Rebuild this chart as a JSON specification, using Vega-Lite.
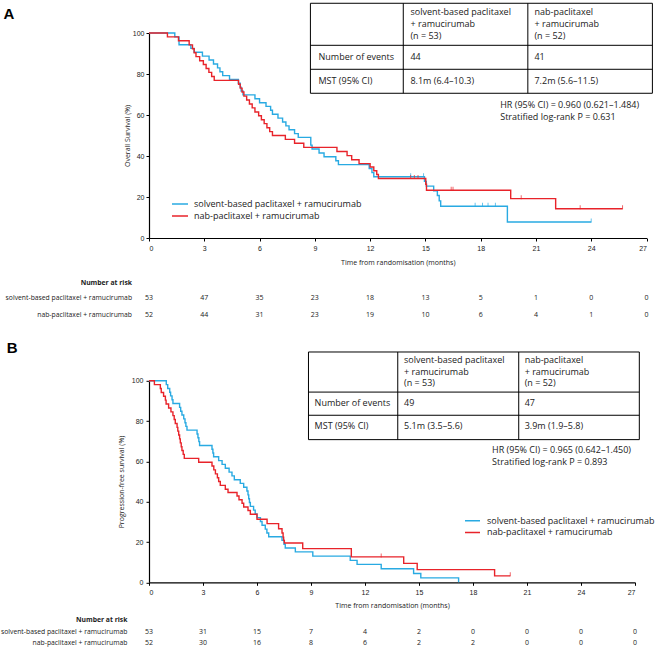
{
  "$schema": "https://vega.github.io/schema/vega-lite/v6.json",
  "padding": {"left": 0, "top": 2, "right": 0, "bottom": 0},
  "background": "white",
  "bounds": "flush",
  "spacing": 142.8,
  "config": {
    "view": {"stroke": null},
    "font": "Open Sans",
    "axis": {"labelFont": "Liberation Sans", "labelFontSize": 7, "labelColor": "#222", "titleFont": "Open Sans", "titleFontSize": 7, "titleFontWeight": "normal", "titleColor": "#222", "domainColor": "#000", "tickColor": "#000", "domainWidth": 1.2, "grid": false, "tickSize": 3},
    "text": {"font": "Open Sans", "color": "#222"}
  },
  "resolve": {"scale": {"color": "independent", "x": "independent", "y": "independent"}, "legend": {"color": "independent"}},
  "datasets": {
    "kmA": [
      {"arm": "solvent-based paclitaxel + ramucirumab", "t": 0, "s": 100},
      {"arm": "solvent-based paclitaxel + ramucirumab", "t": 1.4, "s": 98.1},
      {"arm": "solvent-based paclitaxel + ramucirumab", "t": 1.63, "s": 94.3},
      {"arm": "solvent-based paclitaxel + ramucirumab", "t": 2.27, "s": 92.5},
      {"arm": "solvent-based paclitaxel + ramucirumab", "t": 2.45, "s": 90.6},
      {"arm": "solvent-based paclitaxel + ramucirumab", "t": 2.9, "s": 88.7},
      {"arm": "solvent-based paclitaxel + ramucirumab", "t": 3.26, "s": 86.8},
      {"arm": "solvent-based paclitaxel + ramucirumab", "t": 3.5, "s": 84.9},
      {"arm": "solvent-based paclitaxel + ramucirumab", "t": 3.72, "s": 83.0},
      {"arm": "solvent-based paclitaxel + ramucirumab", "t": 3.85, "s": 81.1},
      {"arm": "solvent-based paclitaxel + ramucirumab", "t": 4.0, "s": 79.2},
      {"arm": "solvent-based paclitaxel + ramucirumab", "t": 4.37, "s": 77.4},
      {"arm": "solvent-based paclitaxel + ramucirumab", "t": 4.85, "s": 75.5},
      {"arm": "solvent-based paclitaxel + ramucirumab", "t": 4.95, "s": 73.6},
      {"arm": "solvent-based paclitaxel + ramucirumab", "t": 5.0, "s": 71.7},
      {"arm": "solvent-based paclitaxel + ramucirumab", "t": 5.1, "s": 69.8},
      {"arm": "solvent-based paclitaxel + ramucirumab", "t": 5.75, "s": 67.9},
      {"arm": "solvent-based paclitaxel + ramucirumab", "t": 6.0, "s": 66.0},
      {"arm": "solvent-based paclitaxel + ramucirumab", "t": 6.35, "s": 64.2},
      {"arm": "solvent-based paclitaxel + ramucirumab", "t": 6.6, "s": 62.3},
      {"arm": "solvent-based paclitaxel + ramucirumab", "t": 6.7, "s": 60.4},
      {"arm": "solvent-based paclitaxel + ramucirumab", "t": 7.0, "s": 58.5},
      {"arm": "solvent-based paclitaxel + ramucirumab", "t": 7.25, "s": 56.6},
      {"arm": "solvent-based paclitaxel + ramucirumab", "t": 7.43, "s": 54.7},
      {"arm": "solvent-based paclitaxel + ramucirumab", "t": 7.6, "s": 52.8},
      {"arm": "solvent-based paclitaxel + ramucirumab", "t": 7.9, "s": 50.9},
      {"arm": "solvent-based paclitaxel + ramucirumab", "t": 8.1, "s": 49.1},
      {"arm": "solvent-based paclitaxel + ramucirumab", "t": 8.78, "s": 45.3},
      {"arm": "solvent-based paclitaxel + ramucirumab", "t": 8.85, "s": 43.4},
      {"arm": "solvent-based paclitaxel + ramucirumab", "t": 9.23, "s": 41.5},
      {"arm": "solvent-based paclitaxel + ramucirumab", "t": 9.5, "s": 39.6},
      {"arm": "solvent-based paclitaxel + ramucirumab", "t": 10.14, "s": 37.7},
      {"arm": "solvent-based paclitaxel + ramucirumab", "t": 10.28, "s": 35.8},
      {"arm": "solvent-based paclitaxel + ramucirumab", "t": 11.95, "s": 33.9},
      {"arm": "solvent-based paclitaxel + ramucirumab", "t": 12.1, "s": 31.9},
      {"arm": "solvent-based paclitaxel + ramucirumab", "t": 12.2, "s": 29.9},
      {"arm": "solvent-based paclitaxel + ramucirumab", "t": 14.95, "s": 27.6},
      {"arm": "solvent-based paclitaxel + ramucirumab", "t": 15.05, "s": 25.3},
      {"arm": "solvent-based paclitaxel + ramucirumab", "t": 15.45, "s": 23.0},
      {"arm": "solvent-based paclitaxel + ramucirumab", "t": 15.65, "s": 20.7},
      {"arm": "solvent-based paclitaxel + ramucirumab", "t": 15.75, "s": 18.1},
      {"arm": "solvent-based paclitaxel + ramucirumab", "t": 15.83, "s": 15.5},
      {"arm": "solvent-based paclitaxel + ramucirumab", "t": 19.45, "s": 7.8},
      {"arm": "solvent-based paclitaxel + ramucirumab", "t": 24.0, "s": 7.8},
      {"arm": "nab-paclitaxel + ramucirumab", "t": 0, "s": 100},
      {"arm": "nab-paclitaxel + ramucirumab", "t": 1.0, "s": 98.1},
      {"arm": "nab-paclitaxel + ramucirumab", "t": 1.6, "s": 96.2},
      {"arm": "nab-paclitaxel + ramucirumab", "t": 2.18, "s": 94.2},
      {"arm": "nab-paclitaxel + ramucirumab", "t": 2.36, "s": 92.3},
      {"arm": "nab-paclitaxel + ramucirumab", "t": 2.45, "s": 90.4},
      {"arm": "nab-paclitaxel + ramucirumab", "t": 2.55, "s": 88.5},
      {"arm": "nab-paclitaxel + ramucirumab", "t": 2.75, "s": 86.5},
      {"arm": "nab-paclitaxel + ramucirumab", "t": 2.95, "s": 84.6},
      {"arm": "nab-paclitaxel + ramucirumab", "t": 3.1, "s": 82.7},
      {"arm": "nab-paclitaxel + ramucirumab", "t": 3.25, "s": 80.8},
      {"arm": "nab-paclitaxel + ramucirumab", "t": 3.4, "s": 78.8},
      {"arm": "nab-paclitaxel + ramucirumab", "t": 3.54, "s": 76.9},
      {"arm": "nab-paclitaxel + ramucirumab", "t": 4.86, "s": 75.0},
      {"arm": "nab-paclitaxel + ramucirumab", "t": 4.95, "s": 73.1},
      {"arm": "nab-paclitaxel + ramucirumab", "t": 5.05, "s": 71.2},
      {"arm": "nab-paclitaxel + ramucirumab", "t": 5.15, "s": 69.2},
      {"arm": "nab-paclitaxel + ramucirumab", "t": 5.3, "s": 67.3},
      {"arm": "nab-paclitaxel + ramucirumab", "t": 5.45, "s": 65.4},
      {"arm": "nab-paclitaxel + ramucirumab", "t": 5.6, "s": 63.5},
      {"arm": "nab-paclitaxel + ramucirumab", "t": 5.75, "s": 61.5},
      {"arm": "nab-paclitaxel + ramucirumab", "t": 5.95, "s": 59.6},
      {"arm": "nab-paclitaxel + ramucirumab", "t": 6.1, "s": 57.7},
      {"arm": "nab-paclitaxel + ramucirumab", "t": 6.25, "s": 55.8},
      {"arm": "nab-paclitaxel + ramucirumab", "t": 6.4, "s": 53.8},
      {"arm": "nab-paclitaxel + ramucirumab", "t": 6.55, "s": 51.9},
      {"arm": "nab-paclitaxel + ramucirumab", "t": 6.7, "s": 50.0},
      {"arm": "nab-paclitaxel + ramucirumab", "t": 7.4, "s": 48.1},
      {"arm": "nab-paclitaxel + ramucirumab", "t": 7.9, "s": 46.2},
      {"arm": "nab-paclitaxel + ramucirumab", "t": 8.4, "s": 44.2},
      {"arm": "nab-paclitaxel + ramucirumab", "t": 10.2, "s": 42.2},
      {"arm": "nab-paclitaxel + ramucirumab", "t": 10.75, "s": 40.2},
      {"arm": "nab-paclitaxel + ramucirumab", "t": 11.0, "s": 38.2},
      {"arm": "nab-paclitaxel + ramucirumab", "t": 11.4, "s": 36.3},
      {"arm": "nab-paclitaxel + ramucirumab", "t": 12.0, "s": 34.6},
      {"arm": "nab-paclitaxel + ramucirumab", "t": 12.2, "s": 32.8},
      {"arm": "nab-paclitaxel + ramucirumab", "t": 12.36, "s": 31.0},
      {"arm": "nab-paclitaxel + ramucirumab", "t": 12.45, "s": 29.0},
      {"arm": "nab-paclitaxel + ramucirumab", "t": 15.02, "s": 26.2},
      {"arm": "nab-paclitaxel + ramucirumab", "t": 15.06, "s": 23.3},
      {"arm": "nab-paclitaxel + ramucirumab", "t": 19.63, "s": 19.2},
      {"arm": "nab-paclitaxel + ramucirumab", "t": 22.07, "s": 14.3},
      {"arm": "nab-paclitaxel + ramucirumab", "t": 25.7, "s": 14.3}
    ],
    "censA": [
      {"arm": "solvent-based paclitaxel + ramucirumab", "t": 14.2, "s": 29.9},
      {"arm": "solvent-based paclitaxel + ramucirumab", "t": 14.9, "s": 29.9},
      {"arm": "solvent-based paclitaxel + ramucirumab", "t": 17.7, "s": 15.5},
      {"arm": "solvent-based paclitaxel + ramucirumab", "t": 18.1, "s": 15.5},
      {"arm": "solvent-based paclitaxel + ramucirumab", "t": 18.4, "s": 15.5},
      {"arm": "solvent-based paclitaxel + ramucirumab", "t": 18.8, "s": 15.5},
      {"arm": "solvent-based paclitaxel + ramucirumab", "t": 24.0, "s": 7.8},
      {"arm": "nab-paclitaxel + ramucirumab", "t": 14.2, "s": 29.0},
      {"arm": "nab-paclitaxel + ramucirumab", "t": 14.4, "s": 29.0},
      {"arm": "nab-paclitaxel + ramucirumab", "t": 14.6, "s": 29.0},
      {"arm": "nab-paclitaxel + ramucirumab", "t": 16.4, "s": 23.3},
      {"arm": "nab-paclitaxel + ramucirumab", "t": 16.5, "s": 23.3},
      {"arm": "nab-paclitaxel + ramucirumab", "t": 20.2, "s": 19.2},
      {"arm": "nab-paclitaxel + ramucirumab", "t": 23.4, "s": 14.3},
      {"arm": "nab-paclitaxel + ramucirumab", "t": 25.7, "s": 14.3}
    ],
    "kmB": [
      {"arm": "solvent-based paclitaxel + ramucirumab", "t": 0, "s": 100},
      {"arm": "solvent-based paclitaxel + ramucirumab", "t": 0.96, "s": 98.1},
      {"arm": "solvent-based paclitaxel + ramucirumab", "t": 1.04, "s": 96.2},
      {"arm": "solvent-based paclitaxel + ramucirumab", "t": 1.15, "s": 94.3},
      {"arm": "solvent-based paclitaxel + ramucirumab", "t": 1.2, "s": 92.5},
      {"arm": "solvent-based paclitaxel + ramucirumab", "t": 1.28, "s": 90.6},
      {"arm": "solvent-based paclitaxel + ramucirumab", "t": 1.33, "s": 88.7},
      {"arm": "solvent-based paclitaxel + ramucirumab", "t": 1.7, "s": 86.8},
      {"arm": "solvent-based paclitaxel + ramucirumab", "t": 1.76, "s": 84.9},
      {"arm": "solvent-based paclitaxel + ramucirumab", "t": 1.83, "s": 83.0},
      {"arm": "solvent-based paclitaxel + ramucirumab", "t": 1.93, "s": 81.1},
      {"arm": "solvent-based paclitaxel + ramucirumab", "t": 2.0, "s": 79.2},
      {"arm": "solvent-based paclitaxel + ramucirumab", "t": 2.05, "s": 77.4},
      {"arm": "solvent-based paclitaxel + ramucirumab", "t": 2.11, "s": 75.5},
      {"arm": "solvent-based paclitaxel + ramucirumab", "t": 2.67, "s": 73.6},
      {"arm": "solvent-based paclitaxel + ramucirumab", "t": 2.72, "s": 71.7},
      {"arm": "solvent-based paclitaxel + ramucirumab", "t": 2.77, "s": 69.8},
      {"arm": "solvent-based paclitaxel + ramucirumab", "t": 2.81, "s": 67.9},
      {"arm": "solvent-based paclitaxel + ramucirumab", "t": 3.5, "s": 66.0},
      {"arm": "solvent-based paclitaxel + ramucirumab", "t": 3.55, "s": 64.2},
      {"arm": "solvent-based paclitaxel + ramucirumab", "t": 3.59, "s": 62.3},
      {"arm": "solvent-based paclitaxel + ramucirumab", "t": 3.87, "s": 60.4},
      {"arm": "solvent-based paclitaxel + ramucirumab", "t": 4.06, "s": 58.5},
      {"arm": "solvent-based paclitaxel + ramucirumab", "t": 4.24, "s": 56.6},
      {"arm": "solvent-based paclitaxel + ramucirumab", "t": 4.45, "s": 54.7},
      {"arm": "solvent-based paclitaxel + ramucirumab", "t": 4.61, "s": 52.8},
      {"arm": "solvent-based paclitaxel + ramucirumab", "t": 4.74, "s": 50.9},
      {"arm": "solvent-based paclitaxel + ramucirumab", "t": 5.07, "s": 49.1},
      {"arm": "solvent-based paclitaxel + ramucirumab", "t": 5.26, "s": 47.2},
      {"arm": "solvent-based paclitaxel + ramucirumab", "t": 5.44, "s": 45.3},
      {"arm": "solvent-based paclitaxel + ramucirumab", "t": 5.5, "s": 43.4},
      {"arm": "solvent-based paclitaxel + ramucirumab", "t": 5.54, "s": 41.5},
      {"arm": "solvent-based paclitaxel + ramucirumab", "t": 5.58, "s": 39.6},
      {"arm": "solvent-based paclitaxel + ramucirumab", "t": 5.63, "s": 37.7},
      {"arm": "solvent-based paclitaxel + ramucirumab", "t": 5.81, "s": 35.8},
      {"arm": "solvent-based paclitaxel + ramucirumab", "t": 5.9, "s": 33.9},
      {"arm": "solvent-based paclitaxel + ramucirumab", "t": 6.0, "s": 32.1},
      {"arm": "solvent-based paclitaxel + ramucirumab", "t": 6.19, "s": 30.2},
      {"arm": "solvent-based paclitaxel + ramucirumab", "t": 6.28, "s": 28.3},
      {"arm": "solvent-based paclitaxel + ramucirumab", "t": 6.46, "s": 26.4},
      {"arm": "solvent-based paclitaxel + ramucirumab", "t": 6.55, "s": 24.5},
      {"arm": "solvent-based paclitaxel + ramucirumab", "t": 6.65, "s": 22.6},
      {"arm": "solvent-based paclitaxel + ramucirumab", "t": 7.39, "s": 20.8},
      {"arm": "solvent-based paclitaxel + ramucirumab", "t": 7.5, "s": 18.9},
      {"arm": "solvent-based paclitaxel + ramucirumab", "t": 7.57, "s": 17.0},
      {"arm": "solvent-based paclitaxel + ramucirumab", "t": 8.13, "s": 15.1},
      {"arm": "solvent-based paclitaxel + ramucirumab", "t": 9.1, "s": 13.0},
      {"arm": "solvent-based paclitaxel + ramucirumab", "t": 11.18, "s": 10.9},
      {"arm": "solvent-based paclitaxel + ramucirumab", "t": 11.56, "s": 8.9},
      {"arm": "solvent-based paclitaxel + ramucirumab", "t": 12.9, "s": 6.7},
      {"arm": "solvent-based paclitaxel + ramucirumab", "t": 14.7, "s": 4.4},
      {"arm": "solvent-based paclitaxel + ramucirumab", "t": 15.1, "s": 2.2},
      {"arm": "solvent-based paclitaxel + ramucirumab", "t": 17.2, "s": 0},
      {"arm": "nab-paclitaxel + ramucirumab", "t": 0, "s": 100},
      {"arm": "nab-paclitaxel + ramucirumab", "t": 0.3, "s": 98.1},
      {"arm": "nab-paclitaxel + ramucirumab", "t": 0.63, "s": 96.2},
      {"arm": "nab-paclitaxel + ramucirumab", "t": 0.68, "s": 94.2},
      {"arm": "nab-paclitaxel + ramucirumab", "t": 0.81, "s": 92.3},
      {"arm": "nab-paclitaxel + ramucirumab", "t": 0.91, "s": 90.4},
      {"arm": "nab-paclitaxel + ramucirumab", "t": 0.95, "s": 88.5},
      {"arm": "nab-paclitaxel + ramucirumab", "t": 1.09, "s": 86.5},
      {"arm": "nab-paclitaxel + ramucirumab", "t": 1.22, "s": 84.6},
      {"arm": "nab-paclitaxel + ramucirumab", "t": 1.33, "s": 82.7},
      {"arm": "nab-paclitaxel + ramucirumab", "t": 1.4, "s": 80.8},
      {"arm": "nab-paclitaxel + ramucirumab", "t": 1.46, "s": 78.8},
      {"arm": "nab-paclitaxel + ramucirumab", "t": 1.56, "s": 76.9},
      {"arm": "nab-paclitaxel + ramucirumab", "t": 1.6, "s": 75.0},
      {"arm": "nab-paclitaxel + ramucirumab", "t": 1.65, "s": 73.1},
      {"arm": "nab-paclitaxel + ramucirumab", "t": 1.7, "s": 71.2},
      {"arm": "nab-paclitaxel + ramucirumab", "t": 1.74, "s": 69.2},
      {"arm": "nab-paclitaxel + ramucirumab", "t": 1.79, "s": 67.3},
      {"arm": "nab-paclitaxel + ramucirumab", "t": 1.83, "s": 65.4},
      {"arm": "nab-paclitaxel + ramucirumab", "t": 1.9, "s": 63.5},
      {"arm": "nab-paclitaxel + ramucirumab", "t": 1.96, "s": 61.5},
      {"arm": "nab-paclitaxel + ramucirumab", "t": 2.76, "s": 59.6},
      {"arm": "nab-paclitaxel + ramucirumab", "t": 3.5, "s": 57.7},
      {"arm": "nab-paclitaxel + ramucirumab", "t": 3.6, "s": 55.8},
      {"arm": "nab-paclitaxel + ramucirumab", "t": 3.69, "s": 53.8},
      {"arm": "nab-paclitaxel + ramucirumab", "t": 3.8, "s": 51.9},
      {"arm": "nab-paclitaxel + ramucirumab", "t": 3.87, "s": 50.0},
      {"arm": "nab-paclitaxel + ramucirumab", "t": 3.96, "s": 48.1},
      {"arm": "nab-paclitaxel + ramucirumab", "t": 4.24, "s": 46.2},
      {"arm": "nab-paclitaxel + ramucirumab", "t": 4.39, "s": 44.6},
      {"arm": "nab-paclitaxel + ramucirumab", "t": 4.89, "s": 42.8},
      {"arm": "nab-paclitaxel + ramucirumab", "t": 5.0, "s": 41.0},
      {"arm": "nab-paclitaxel + ramucirumab", "t": 5.17, "s": 39.2},
      {"arm": "nab-paclitaxel + ramucirumab", "t": 5.26, "s": 37.4},
      {"arm": "nab-paclitaxel + ramucirumab", "t": 5.5, "s": 35.6},
      {"arm": "nab-paclitaxel + ramucirumab", "t": 5.63, "s": 33.8},
      {"arm": "nab-paclitaxel + ramucirumab", "t": 6.0, "s": 31.3},
      {"arm": "nab-paclitaxel + ramucirumab", "t": 6.56, "s": 29.1},
      {"arm": "nab-paclitaxel + ramucirumab", "t": 7.2, "s": 26.6},
      {"arm": "nab-paclitaxel + ramucirumab", "t": 7.39, "s": 24.5},
      {"arm": "nab-paclitaxel + ramucirumab", "t": 7.45, "s": 22.4},
      {"arm": "nab-paclitaxel + ramucirumab", "t": 7.48, "s": 20.8},
      {"arm": "nab-paclitaxel + ramucirumab", "t": 7.52, "s": 19.5},
      {"arm": "nab-paclitaxel + ramucirumab", "t": 8.54, "s": 16.7},
      {"arm": "nab-paclitaxel + ramucirumab", "t": 11.24, "s": 12.6},
      {"arm": "nab-paclitaxel + ramucirumab", "t": 14.15, "s": 9.4},
      {"arm": "nab-paclitaxel + ramucirumab", "t": 14.9, "s": 6.3},
      {"arm": "nab-paclitaxel + ramucirumab", "t": 19.2, "s": 3.2},
      {"arm": "nab-paclitaxel + ramucirumab", "t": 20.07, "s": 3.2}
    ],
    "censB": [
      {"arm": "nab-paclitaxel + ramucirumab", "t": 12.9, "s": 12.6},
      {"arm": "nab-paclitaxel + ramucirumab", "t": 20.07, "s": 3.2}
    ],
    "riskA": [
      {"arm": "solvent", "t": 0, "n": 53}, {"arm": "solvent", "t": 3, "n": 47}, {"arm": "solvent", "t": 6, "n": 35}, {"arm": "solvent", "t": 9, "n": 23}, {"arm": "solvent", "t": 12, "n": 18},
      {"arm": "solvent", "t": 15, "n": 13}, {"arm": "solvent", "t": 18, "n": 5}, {"arm": "solvent", "t": 21, "n": 1}, {"arm": "solvent", "t": 24, "n": 0}, {"arm": "solvent", "t": 27, "n": 0},
      {"arm": "nab", "t": 0, "n": 52}, {"arm": "nab", "t": 3, "n": 44}, {"arm": "nab", "t": 6, "n": 31}, {"arm": "nab", "t": 9, "n": 23}, {"arm": "nab", "t": 12, "n": 19},
      {"arm": "nab", "t": 15, "n": 10}, {"arm": "nab", "t": 18, "n": 6}, {"arm": "nab", "t": 21, "n": 4}, {"arm": "nab", "t": 24, "n": 1}, {"arm": "nab", "t": 27, "n": 0}
    ],
    "riskB": [
      {"arm": "solvent", "t": 0, "n": 53}, {"arm": "solvent", "t": 3, "n": 31}, {"arm": "solvent", "t": 6, "n": 15}, {"arm": "solvent", "t": 9, "n": 7}, {"arm": "solvent", "t": 12, "n": 4},
      {"arm": "solvent", "t": 15, "n": 2}, {"arm": "solvent", "t": 18, "n": 0}, {"arm": "solvent", "t": 21, "n": 0}, {"arm": "solvent", "t": 24, "n": 0}, {"arm": "solvent", "t": 27, "n": 0},
      {"arm": "nab", "t": 0, "n": 52}, {"arm": "nab", "t": 3, "n": 30}, {"arm": "nab", "t": 6, "n": 16}, {"arm": "nab", "t": 9, "n": 8}, {"arm": "nab", "t": 12, "n": 6},
      {"arm": "nab", "t": 15, "n": 2}, {"arm": "nab", "t": 18, "n": 2}, {"arm": "nab", "t": 21, "n": 0}, {"arm": "nab", "t": 24, "n": 0}, {"arm": "nab", "t": 27, "n": 0}
    ],
    "gridA": [
      {"x": 8.76, "x2": 27.32, "y": 114.5, "y2": 114.5},
      {"x": 8.76, "x2": 27.32, "y": 94.0, "y2": 94.0},
      {"x": 8.76, "x2": 27.32, "y": 82.3, "y2": 82.3},
      {"x": 8.76, "x2": 27.32, "y": 70.6, "y2": 70.6},
      {"x": 8.76, "x2": 8.76, "y": 70.6, "y2": 114.5},
      {"x": 13.8, "x2": 13.8, "y": 70.6, "y2": 114.5},
      {"x": 20.56, "x2": 20.56, "y": 70.6, "y2": 114.5},
      {"x": 27.32, "x2": 27.32, "y": 70.6, "y2": 114.5}
    ],
    "cellsA": [
      {"x": 14.19, "y": 110.1, "label": "solvent-based paclitaxel"},
      {"x": 14.19, "y": 104.2, "label": "+ ramucirumab"},
      {"x": 14.19, "y": 98.4, "label": "(n = 53)"},
      {"x": 20.92, "y": 110.1, "label": "nab-paclitaxel"},
      {"x": 20.92, "y": 104.2, "label": "+ ramucirumab"},
      {"x": 20.92, "y": 98.4, "label": "(n = 52)"},
      {"x": 9.2, "y": 88.1, "label": "Number of events"},
      {"x": 14.19, "y": 88.1, "label": "44"},
      {"x": 20.92, "y": 88.1, "label": "41"},
      {"x": 9.2, "y": 76.4, "label": "MST (95% CI)"},
      {"x": 14.19, "y": 76.4, "label": "8.1m (6.4–10.3)"},
      {"x": 20.92, "y": 76.4, "label": "7.2m (5.6–11.5)"},
      {"x": 19.06, "y": 64.7, "label": "HR (95% CI) = 0.960 (0.621–1.484)"},
      {"x": 19.06, "y": 58.9, "label": "Stratified log-rank P = 0.631"}
    ],
    "gridB": [
      {"x": 8.86, "x2": 27.24, "y": 114.3, "y2": 114.3},
      {"x": 8.86, "x2": 27.24, "y": 94.4, "y2": 94.4},
      {"x": 8.86, "x2": 27.24, "y": 82.9, "y2": 82.9},
      {"x": 8.86, "x2": 27.24, "y": 70.8, "y2": 70.8},
      {"x": 8.86, "x2": 8.86, "y": 70.8, "y2": 114.3},
      {"x": 13.82, "x2": 13.82, "y": 70.8, "y2": 114.3},
      {"x": 20.54, "x2": 20.54, "y": 70.8, "y2": 114.3},
      {"x": 27.24, "x2": 27.24, "y": 70.8, "y2": 114.3}
    ],
    "cellsB": [
      {"x": 14.17, "y": 110.2, "label": "solvent-based paclitaxel"},
      {"x": 14.17, "y": 104.5, "label": "+ ramucirumab"},
      {"x": 14.17, "y": 98.8, "label": "(n = 53)"},
      {"x": 20.87, "y": 110.2, "label": "nab-paclitaxel"},
      {"x": 20.87, "y": 104.5, "label": "+ ramucirumab"},
      {"x": 20.87, "y": 98.8, "label": "(n = 52)"},
      {"x": 9.2, "y": 88.8, "label": "Number of events"},
      {"x": 14.17, "y": 88.8, "label": "49"},
      {"x": 20.87, "y": 88.8, "label": "47"},
      {"x": 9.2, "y": 77.4, "label": "MST (95% CI)"},
      {"x": 14.17, "y": 77.4, "label": "5.1m (3.5–5.6)"},
      {"x": 20.87, "y": 77.4, "label": "3.9m (1.9–5.8)"},
      {"x": 19.06, "y": 65.5, "label": "HR (95% CI) = 0.965 (0.642–1.450)"},
      {"x": 19.06, "y": 59.7, "label": "Stratified log-rank P = 0.893"}
    ]
  },
  "vconcat": [
    {
      "width": 497.5,
      "height": 205,
      "layer": [
        {
          "data": {"name": "kmA"},
          "mark": {"type": "line", "interpolate": "step-after", "strokeWidth": 1.4},
          "encoding": {
            "x": {"field": "t", "type": "quantitative", "scale": {"domain": [0, 27], "nice": false, "zero": false},
                  "axis": {"values": [0, 3, 6, 9, 12, 15, 18, 21, 24, 27], "title": "Time from randomisation (months)", "labelPadding": 3, "titlePadding": 7}},
            "y": {"field": "s", "type": "quantitative", "scale": {"domain": [0, 100], "nice": false},
                  "axis": {"values": [0, 10, 20, 30, 40, 50, 60, 70, 80, 90, 100], "title": "Overall Survival (%)", "labelPadding": 2, "titlePadding": 2}},
            "color": {"field": "arm", "type": "nominal",
                      "scale": {"domain": ["solvent-based paclitaxel + ramucirumab", "nab-paclitaxel + ramucirumab"], "range": ["#29aae2", "#e8232a"]},
                      "legend": {"orient": "none", "legendX": 22, "legendY": 166, "title": null, "symbolType": "stroke", "symbolSize": 256, "symbolStrokeWidth": 1.5, "clipHeight": 10, "labelFont": "Open Sans", "labelFontSize": 9, "labelColor": "#222", "labelLimit": 400, "rowPadding": 2, "labelOffset": 5}},
            "order": {"field": "t", "type": "quantitative"}
          }
        },
        {
          "data": {"name": "censA"},
          "mark": {"type": "tick", "orient": "vertical", "size": 4, "thickness": 1, "yOffset": -1.5},
          "encoding": {
            "x": {"field": "t", "type": "quantitative"},
            "y": {"field": "s", "type": "quantitative"},
            "color": {"field": "arm", "type": "nominal", "legend": null}
          }
        },
        {
          "data": {"name": "gridA"},
          "mark": {"type": "rule", "color": "#000", "strokeWidth": 1},
          "encoding": {"x": {"field": "x", "type": "quantitative"}, "x2": {"field": "x2"}, "y": {"field": "y", "type": "quantitative"}, "y2": {"field": "y2"}}
        },
        {
          "data": {"name": "cellsA"},
          "mark": {"type": "text", "align": "left", "baseline": "middle", "fontSize": 9},
          "encoding": {"x": {"field": "x", "type": "quantitative"}, "y": {"field": "y", "type": "quantitative"}, "text": {"field": "label"}}
        },
        {
          "data": {"name": "riskA"},
          "transform": [{"filter": "datum.arm === 'solvent'"}],
          "mark": {"type": "text", "align": "center", "baseline": "middle", "fontSize": 7},
          "encoding": {"x": {"field": "t", "type": "quantitative"}, "y": {"datum": -29.4}, "text": {"field": "n"}}
        },
        {
          "data": {"name": "riskA"},
          "transform": [{"filter": "datum.arm === 'nab'"}],
          "mark": {"type": "text", "align": "center", "baseline": "middle", "fontSize": 7},
          "encoding": {"x": {"field": "t", "type": "quantitative"}, "y": {"datum": -37.7}, "text": {"field": "n"}}
        },
        {
          "data": {"values": [{"label": "Number at risk"}]},
          "mark": {"type": "text", "align": "right", "baseline": "middle", "fontSize": 6.8, "fontWeight": "bold"},
          "encoding": {"x": {"datum": -0.92}, "y": {"datum": -21.8}, "text": {"field": "label"}}
        },
        {
          "data": {"values": [{"label": "solvent-based paclitaxel + ramucirumab"}]},
          "mark": {"type": "text", "align": "right", "baseline": "middle", "fontSize": 6.8},
          "encoding": {"x": {"datum": -0.92}, "y": {"datum": -29.4}, "text": {"field": "label"}}
        },
        {
          "data": {"values": [{"label": "nab-paclitaxel + ramucirumab"}]},
          "mark": {"type": "text", "align": "right", "baseline": "middle", "fontSize": 6.8},
          "encoding": {"x": {"datum": -0.92}, "y": {"datum": -37.7}, "text": {"field": "label"}}
        },
        {
          "data": {"values": [{"label": "A"}]},
          "mark": {"type": "text", "align": "left", "baseline": "middle", "fontSize": 15, "fontWeight": "bold", "font": "Liberation Sans", "color": "#000"},
          "encoding": {"x": {"datum": -7.9}, "y": {"datum": 109.5}, "text": {"field": "label"}}
        }
      ]
    },
    {
      "width": 486,
      "height": 201.5,
      "layer": [
        {
          "data": {"name": "kmB"},
          "mark": {"type": "line", "interpolate": "step-after", "strokeWidth": 1.4},
          "encoding": {
            "x": {"field": "t", "type": "quantitative", "scale": {"domain": [0, 27], "nice": false, "zero": false},
                  "axis": {"values": [0, 3, 6, 9, 12, 15, 18, 21, 24, 27], "title": "Time from randomisation (months)", "labelPadding": 3, "titlePadding": 6}},
            "y": {"field": "s", "type": "quantitative", "scale": {"domain": [0, 100], "nice": false},
                  "axis": {"values": [0, 10, 20, 30, 40, 50, 60, 70, 80, 90, 100], "title": "Progression-free survival (%)", "labelPadding": 3, "titlePadding": 7}},
            "color": {"field": "arm", "type": "nominal",
                      "scale": {"domain": ["solvent-based paclitaxel + ramucirumab", "nab-paclitaxel + ramucirumab"], "range": ["#29aae2", "#e8232a"]},
                      "legend": {"orient": "none", "legendX": 315, "legendY": 135, "title": null, "symbolType": "stroke", "symbolSize": 225, "symbolStrokeWidth": 1.5, "clipHeight": 10, "labelFont": "Open Sans", "labelFontSize": 9, "labelColor": "#222", "labelLimit": 400, "rowPadding": 1.6, "labelOffset": 6}},
            "order": {"field": "t", "type": "quantitative"}
          }
        },
        {
          "data": {"name": "censB"},
          "mark": {"type": "tick", "orient": "vertical", "size": 4, "thickness": 1, "yOffset": -1.5},
          "encoding": {
            "x": {"field": "t", "type": "quantitative"},
            "y": {"field": "s", "type": "quantitative"},
            "color": {"field": "arm", "type": "nominal", "legend": null}
          }
        },
        {
          "data": {"name": "gridB"},
          "mark": {"type": "rule", "color": "#000", "strokeWidth": 1},
          "encoding": {"x": {"field": "x", "type": "quantitative"}, "x2": {"field": "x2"}, "y": {"field": "y", "type": "quantitative"}, "y2": {"field": "y2"}}
        },
        {
          "data": {"name": "cellsB"},
          "mark": {"type": "text", "align": "left", "baseline": "middle", "fontSize": 9},
          "encoding": {"x": {"field": "x", "type": "quantitative"}, "y": {"field": "y", "type": "quantitative"}, "text": {"field": "label"}}
        },
        {
          "data": {"name": "riskB"},
          "transform": [{"filter": "datum.arm === 'solvent'"}],
          "mark": {"type": "text", "align": "center", "baseline": "middle", "fontSize": 7},
          "encoding": {"x": {"field": "t", "type": "quantitative"}, "y": {"datum": -24.8}, "text": {"field": "n"}}
        },
        {
          "data": {"name": "riskB"},
          "transform": [{"filter": "datum.arm === 'nab'"}],
          "mark": {"type": "text", "align": "center", "baseline": "middle", "fontSize": 7},
          "encoding": {"x": {"field": "t", "type": "quantitative"}, "y": {"datum": -30.3}, "text": {"field": "n"}}
        },
        {
          "data": {"values": [{"label": "Number at risk"}]},
          "mark": {"type": "text", "align": "right", "baseline": "middle", "fontSize": 6.8, "fontWeight": "bold"},
          "encoding": {"x": {"datum": -1.2}, "y": {"datum": -18.9}, "text": {"field": "label"}}
        },
        {
          "data": {"values": [{"label": "solvent-based paclitaxel + ramucirumab"}]},
          "mark": {"type": "text", "align": "right", "baseline": "middle", "fontSize": 6.8},
          "encoding": {"x": {"datum": -1.2}, "y": {"datum": -24.8}, "text": {"field": "label"}}
        },
        {
          "data": {"values": [{"label": "nab-paclitaxel + ramucirumab"}]},
          "mark": {"type": "text", "align": "right", "baseline": "middle", "fontSize": 6.8},
          "encoding": {"x": {"datum": -1.2}, "y": {"datum": -30.3}, "text": {"field": "label"}}
        },
        {
          "data": {"values": [{"label": "B"}]},
          "mark": {"type": "text", "align": "left", "baseline": "middle", "fontSize": 15, "fontWeight": "bold", "font": "Liberation Sans", "color": "#000"},
          "encoding": {"x": {"datum": -7.9}, "y": {"datum": 116.5}, "text": {"field": "label"}}
        }
      ]
    }
  ]
}
